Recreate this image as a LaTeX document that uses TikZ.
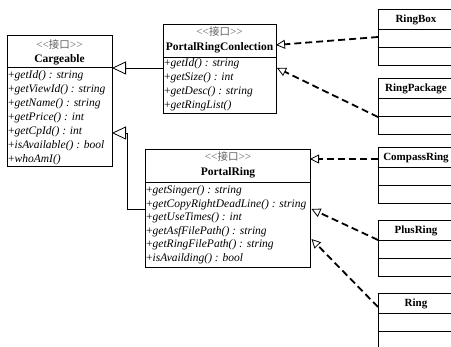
\documentclass[tikz,border=0pt]{standalone}
\usepackage{fontspec}
\setmainfont{Liberation Serif}
\newfontfamily\cjk{Noto Sans CJK SC}
\usetikzlibrary{arrows.meta,calc}
\newcommand\umlm[1]{+\textit{#1}}
\newcommand\umlst{<\kern0pt<{\cjk\fontsize{10.5}{12}\selectfont 接口}>\kern0pt>}
\tikzset{
  cls/.style={draw=black,line width=0.8pt,fill=white,anchor=north west,inner sep=0pt,outer sep=0pt},
  stereo/.style={font=\fontsize{11.3}{12}\selectfont,text=black!62,inner sep=0pt,anchor=base},
  cname/.style={font=\fontsize{11.5}{13}\selectfont\bfseries,inner sep=0pt,anchor=base},
  meth/.style={font=\fontsize{11.5}{13.9}\selectfont,inner sep=0pt,anchor=base west},
  gen/.style={line width=0.8pt,-{Triangle[open,length=14pt,width=13pt]}},
  real/.style={line width=1.8pt,dash pattern=on 7pt off 4pt,-{Triangle[open,length=9pt,width=9pt,line width=0.8pt]}},
  divl/.style={line width=0.8pt},
}
\begin{document}
\begin{tikzpicture}[x=1pt,y=-1pt]
\useasboundingbox (0,0) rectangle (451,347);
\clip (0,0) rectangle (451,347);
\fill[white] (0,0) rectangle (451,347);

% Cargeable
\node[cls,minimum width=105,minimum height=131] (carg) at (7,35) {};
\draw[divl] ($(carg.north west)+(0,32)$) -- ($(carg.north east)+(0,32)$);
\node[stereo] (cargS) at (59.5,49) {\umlst};
\node[cname] (cargN) at (59.5,63) {Cargeable};
\foreach \t [count=\i] in {\umlm{getId() : string},\umlm{getViewId() : string},\umlm{getName() : string},\umlm{getPrice() : int},\umlm{getCpId() : int},\umlm{isAvailable() : bool},\umlm{whoAmI()}}
  \node[meth] (cm\i) at (8,{79+13.9*(\i-1)}) {\t};

% PortalRingConlection
\node[cls,minimum width=113,minimum height=89] (prc) at (163,24) {};
\draw[divl] ($(prc.north west)+(0,33)$) -- ($(prc.north east)+(0,33)$);
\node[stereo] (prcS) at (219.5,36) {\umlst};
\node[cname] (prcN) at (219.5,51) {PortalRingConlection};
\foreach \t [count=\i] in {\umlm{getId() : string},\umlm{getSize() : int},\umlm{getDesc() : string},\umlm{getRingList()}}
  \node[meth] (pm\i) at (164,{67+14*(\i-1)}) {\t};

% PortalRing
\node[cls,minimum width=165,minimum height=118] (pr) at (145,149) {};
\draw[divl] ($(pr.north west)+(0,33)$) -- ($(pr.north east)+(0,33)$);
\node[stereo] (prS) at (228,161) {\umlst};
\node[cname] (prN) at (228,176) {PortalRing};
\foreach \t [count=\i] in {\umlm{getSinger() : string},\umlm{getCopyRightDeadLine() : string},\umlm{getUseTimes() : int},\umlm{getAsfFilePath() : string},\umlm{getRingFilePath() : string},\umlm{isAvailding() : bool}}
  \node[meth] (rm\i) at (146,{194+13.5*(\i-1)}) {\t};

% right-hand classes
\foreach \n/\y/\lab in {rbox/9/RingBox,rpack/78/RingPackage,rcomp/147/CompassRing,rplus/220/PlusRing,rring/293/Ring}{
  \node[cls,minimum width=76,minimum height=56] (\n) at (378,\y) {};
  \draw[divl] ($(\n.north west)+(0,20)$) -- ($(\n.north east)+(0,20)$);
  \draw[divl] ($(\n.north west)+(0,38)$) -- ($(\n.north east)+(0,38)$);
  \node[cname,font=\fontsize{11}{13}\selectfont\bfseries] (\n N) at ($(\n.north)+(0,14)$) {\lab};
}

% attachment points
\coordinate (g1s) at (prc.west |- 0,68);
\coordinate (g1e) at (carg.east |- 0,68);
\coordinate (g2s) at (pr.west |- 0,209);
\coordinate (g2a) at (127,209);
\coordinate (g2b) at (127,133);
\coordinate (g2e) at (carg.east |- 0,133);

\coordinate (d1s) at (rbox.west |- 0,37);
\coordinate (d1e) at (prc.east |- 0,45);
\coordinate (d2s) at ($(rpack.north west)+(0,39)$);
\coordinate (d2e) at ($(prc.east |- 0,68)+(1,0)$);
\coordinate (d3s) at (rcomp.west |- 0,159);
\coordinate (d3e) at (pr.east |- 0,159);
\coordinate (d4s) at ($(rplus.north west)+(0,20)$);
\coordinate (d4e) at ($(pr.east |- 0,209)+(1.5,0)$);
\coordinate (d5s) at ($(rring.north west)+(0,14)$);
\coordinate (d5e) at ($(pr.east |- 0,239)+(1.5,0)$);

\draw[gen] (g1s) -- (g1e);
\draw[gen] (g2s) -- (g2a) -- (g2b) -- (g2e);
\draw[real] (d1s) -- (d1e);
\draw[real] (d2s) -- (d2e);
\draw[real] (d3s) -- (d3e);
\draw[real] (d4s) -- (d4e);
\draw[real] (d5s) -- (d5e);
\end{tikzpicture}
\end{document}
